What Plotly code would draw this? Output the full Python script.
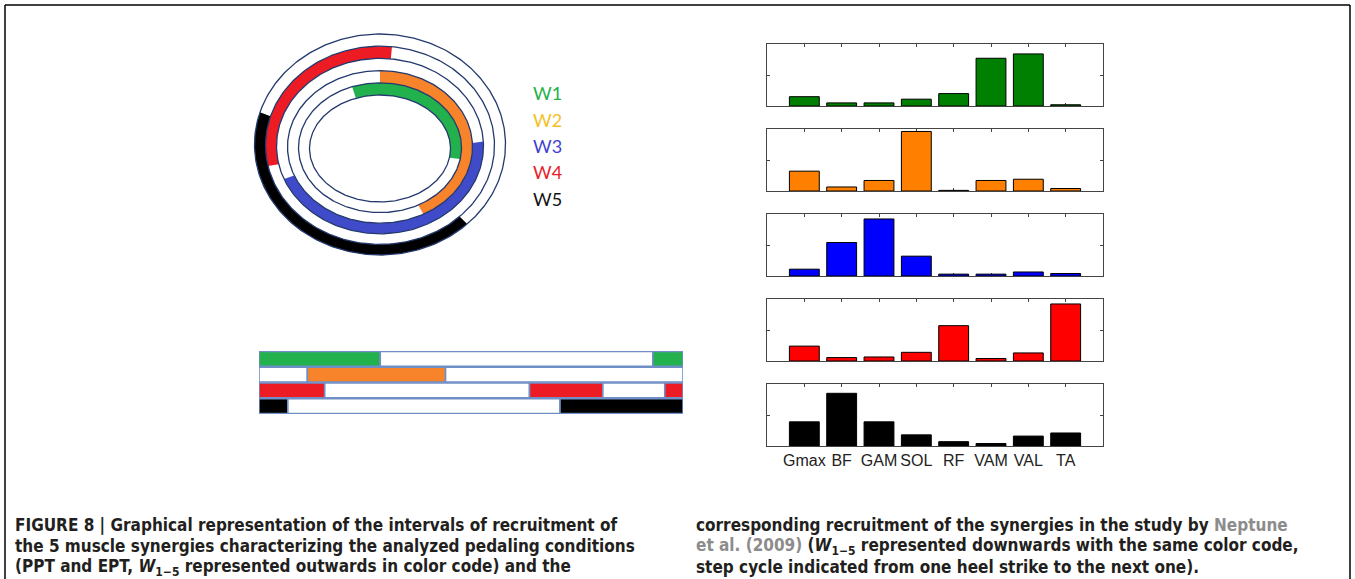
import numpy as np
import plotly.graph_objects as go

W, H = 1355, 579

# ---------------- data ----------------
muscles = ["Gmax", "BF", "GAM", "SOL", "RF", "VAM", "VAL", "TA"]
w1_weights = [0.15, 0.05, 0.05, 0.11, 0.20, 0.77, 0.84, 0.02]
w2_weights = [0.32, 0.065, 0.17, 0.96, 0.01, 0.17, 0.19, 0.04]
w3_weights = [0.11, 0.54, 0.92, 0.32, 0.03, 0.03, 0.065, 0.04]
w4_weights = [0.24, 0.055, 0.065, 0.14, 0.57, 0.04, 0.13, 0.92]
w5_weights = [0.39, 0.85, 0.39, 0.18, 0.07, 0.04, 0.16, 0.21]

synergy_names = ["W1", "W2", "W3", "W4", "W5"]
# recruitment interval on the crank cycle, degrees clockwise from top
ring_start_deg = [-20, 0, 87, 258, 136]
ring_end_deg = [100, 152, 248, 366, 287]

# recruitment intervals over the step cycle (%), Neptune et al. (2009)
strip_rows = ["W1", "W2", "W4", "W5"]
w1_on = [(0.0, 28.6), (92.9, 100.0)]
w2_on = [(11.4, 44.0)]
w4_on = [(0.0, 15.5), (63.8, 81.1), (95.7, 100.0)]
w5_on = [(0.0, 6.8), (71.0, 100.0)]

# ---------------- styling ----------------
ring_colors = ["#22B14C", "#F7832A", "#3F4BC8", "#ED1C24", "#000000"]
label_colors = ["#22B14C", "#F5C025", "#3F3FD0", "#E8202A", "#111111"]
bar_colors = ["#008000", "#FF8000", "#0000FF", "#FF0000", "#000000"]
strip_colors = {"W1": "#22B14C", "W2": "#F7832A", "W4": "#ED1C24", "W5": "#000000"}
outline = "#243A6E"
strip_edge = "#6F8FC6"
frame_col = "#444444"


def px(x):
    return x / W


def py(y):
    return 1 - y / H


fig = go.Figure()
layout = dict(
    width=W, height=H, margin=dict(l=0, r=0, t=0, b=0),
    paper_bgcolor="white", plot_bgcolor="white", showlegend=False,
    barmode="overlay",
)

# ---------------- bar charts (synergy weights) ----------------
weights = [w1_weights, w2_weights, w3_weights, w4_weights, w5_weights]
panel_top = [44, 129, 214, 299, 384]
panel_h = 62
xl, xr = 767, 1103
for i, vals in enumerate(weights):
    n = i + 1
    xa = "x" if n == 1 else f"x{n}"
    ya = "y" if n == 1 else f"y{n}"
    fig.add_trace(go.Bar(
        x=list(range(1, len(muscles) + 1)), y=vals, width=0.8,
        marker=dict(color=bar_colors[i], line=dict(color="black", width=1)),
        xaxis=xa, yaxis=ya, hoverinfo="skip",
    ))
    axkey = "xaxis" if n == 1 else f"xaxis{n}"
    aykey = "yaxis" if n == 1 else f"yaxis{n}"
    last = (i == len(weights) - 1)
    xdef = dict(
        domain=[px(xl), px(xr)], range=[0, 9], anchor=ya,
        tickvals=list(range(1, len(muscles) + 1)),
        showticklabels=last,
        ticks="inside", ticklen=3, tickcolor=frame_col, tickwidth=1,
        showline=True, linecolor=frame_col, linewidth=1.2, mirror="ticks",
        showgrid=False, zeroline=False, layer="below traces",
        tickfont=dict(family="Liberation Sans, Arial, sans-serif", size=16, color="#222"),
        fixedrange=True,
    )
    if last:
        xdef["ticktext"] = muscles
    layout[axkey] = xdef
    t = panel_top[i]
    layout[aykey] = dict(
        domain=[py(t + panel_h), py(t)], range=[0, 1], anchor=xa,
        tickvals=[0.5], showticklabels=False,
        ticks="inside", ticklen=3, tickcolor=frame_col, tickwidth=1,
        showline=True, linecolor=frame_col, linewidth=1.2, mirror="ticks",
        showgrid=False, zeroline=False, layer="below traces", fixedrange=True,
    )

# ---------------- step-cycle strip ----------------
sx = "x6"
sy = "y6"
for r, name in enumerate(strip_rows):
    on = {"W1": w1_on, "W2": w2_on, "W4": w4_on, "W5": w5_on}[name]
    segs = []
    cur = 0.0
    for a, b in on:
        if a > cur:
            segs.append((cur, a, "white"))
        segs.append((a, b, strip_colors[name]))
        cur = b
    if cur < 100:
        segs.append((cur, 100.0, "white"))
    for a, b, c in segs:
        fig.add_trace(go.Bar(
            orientation="h", y=[r], x=[b - a], base=[a], width=0.94,
            marker=dict(color=c, line=dict(color=strip_edge, width=1.6)),
            xaxis=sx, yaxis=sy, hoverinfo="skip",
        ))
layout["xaxis6"] = dict(domain=[px(259), px(683)], range=[0, 100], anchor=sy,
                        visible=False, fixedrange=True)
layout["yaxis6"] = dict(domain=[py(414), py(351)], range=[3.5, -0.5], anchor=sx,
                        visible=False, fixedrange=True)

# ---------------- crank-cycle rings ----------------
rx, ry = "x7", "y7"
x0p, x1p, y0p, y1p = 240, 520, 20, 265
layout["xaxis7"] = dict(domain=[px(x0p), px(x1p)], range=[x0p, x1p], anchor=ry,
                        visible=False, fixedrange=True)
layout["yaxis7"] = dict(domain=[py(y1p), py(y0p)], range=[y1p, y0p], anchor=rx,
                        visible=False, fixedrange=True)

cx = 380.0


def ring_geom(k):
    # semi-axes and centre of the k-th ring boundary (k = 0 innermost)
    return 70.5 + 11.0 * k, 53.5 + 11.4 * k, 148.5 - 0.8 * k


def ellipse_pts(k, clock_deg):
    a, b, cy = ring_geom(k)
    th = np.deg2rad(90.0 - np.asarray(clock_deg, dtype=float))
    return cx + a * np.cos(th), cy - b * np.sin(th)


for k in range(len(synergy_names)):
    s, e = ring_start_deg[k], ring_end_deg[k]
    ang = np.linspace(s, e, 200)
    xo, yo = ellipse_pts(k + 1, ang)
    xi, yi = ellipse_pts(k, ang[::-1])
    fig.add_trace(go.Scatter(
        x=np.concatenate([xo, xi, xo[:1]]), y=np.concatenate([yo, yi, yo[:1]]),
        mode="lines", fill="toself", fillcolor=ring_colors[k],
        line=dict(width=0, color=ring_colors[k]),
        xaxis=rx, yaxis=ry, hoverinfo="skip",
    ))

full = np.linspace(0, 360, 361)
for k in range(len(synergy_names) + 1):
    xe, ye = ellipse_pts(k, full)
    fig.add_trace(go.Scatter(
        x=xe, y=ye, mode="lines", line=dict(color=outline, width=1.3),
        xaxis=rx, yaxis=ry, hoverinfo="skip",
    ))

annotations = []
for k, name in enumerate(synergy_names):
    annotations.append(dict(
        x=px(531), y=py(93 + 26.5 * k), xref="paper", yref="paper",
        xanchor="left", yanchor="middle", showarrow=False, text=name,
        font=dict(family="Lato, Open Sans, sans-serif", size=18, color=label_colors[k]),
    ))

# ---------------- caption ----------------
cap_font = dict(family="Liberation Sans Narrow, Arial Narrow, DejaVu Sans Condensed, sans-serif",
                size=17, color="#231F20", weight=700)
grey = "<span style='color:#8C8C8C'>{}</span>"
sub = "<i>W</i><sub><span style='font-size:12px'>1−5</span></sub>"
left_lines = [
    "FIGURE 8 | Graphical representation of the intervals of recruitment of",
    "the 5 muscle synergies characterizing the analyzed pedaling conditions",
    "(PPT and EPT, " + sub + " represented outwards in color code) and the",
]
right_lines = [
    "corresponding recruitment of the synergies in the study by " + grey.format("Neptune"),
    grey.format("et al. (2009)") + " (" + sub + " represented downwards with the same color code,",
    "step cycle indicated from one heel strike to the next one).",
]
for j, (lt, rt) in enumerate(zip(left_lines, right_lines)):
    yy = py(525 + 21 * j)
    annotations.append(dict(x=px(13), y=yy, xref="paper", yref="paper", xanchor="left",
                            yanchor="middle", showarrow=False, text=lt, font=cap_font))
    annotations.append(dict(x=px(694), y=yy, xref="paper", yref="paper", xanchor="left",
                            yanchor="middle", showarrow=False, text=rt, font=cap_font))

layout["annotations"] = annotations

# outer figure frame (open at the bottom)
layout["shapes"] = [
    dict(type="line", xref="paper", yref="paper", x0=px(5), x1=px(1350), y0=py(5), y1=py(5),
         line=dict(color="black", width=1.5)),
    dict(type="line", xref="paper", yref="paper", x0=px(5), x1=px(5), y0=py(5), y1=0,
         line=dict(color="black", width=1.5)),
    dict(type="line", xref="paper", yref="paper", x0=px(1350), x1=px(1350), y0=py(5), y1=0,
         line=dict(color="black", width=1.5)),
]

fig.update_layout(**layout)
fig.write_html("out.html")
